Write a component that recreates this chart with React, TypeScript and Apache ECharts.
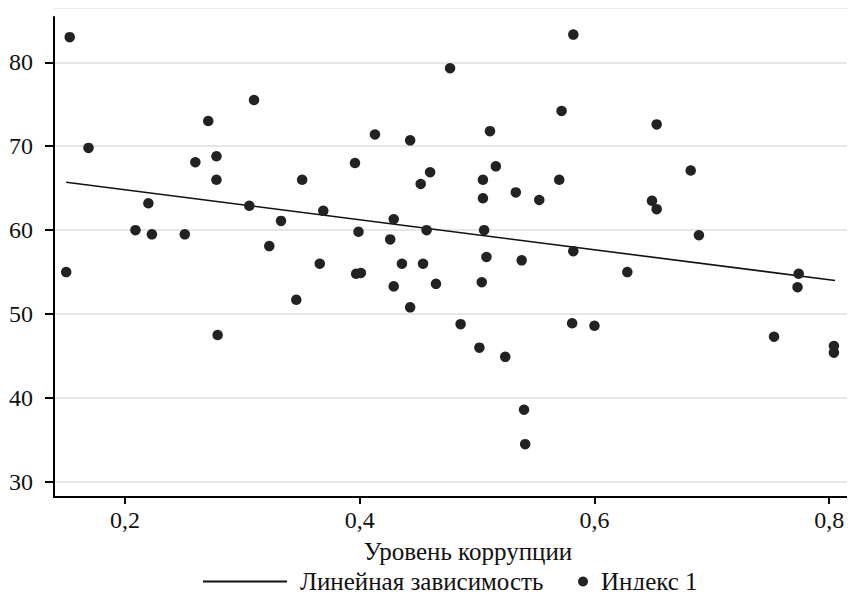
import React, { useEffect, useRef } from "react";
import * as echarts from "echarts";

// Corruption level (x) vs. index value (y) for each observation
const corruption = [
  0.153, 0.15, 0.169, 0.209, 0.22, 0.223, 0.251, 0.26, 0.271, 0.278,
  0.278, 0.279, 0.306, 0.31, 0.323, 0.333, 0.346, 0.351, 0.366, 0.369,
  0.396, 0.397, 0.401, 0.399, 0.426, 0.429, 0.429, 0.413, 0.436, 0.443,
  0.443, 0.452, 0.46, 0.454, 0.457, 0.465, 0.477, 0.486, 0.505, 0.505,
  0.511, 0.516, 0.506, 0.508, 0.504, 0.502, 0.524, 0.533, 0.538, 0.54,
  0.541, 0.553, 0.57, 0.572, 0.582, 0.582, 0.581, 0.6, 0.628, 0.649,
  0.653, 0.653, 0.682, 0.689, 0.753, 0.774, 0.773, 0.804, 0.804,
];
const index1 = [
  83.0, 55.0, 69.8, 60.0, 63.2, 59.5, 59.5, 68.1, 73.0, 68.8,
  66.0, 47.5, 62.9, 75.5, 58.1, 61.1, 51.7, 66.0, 56.0, 62.3,
  68.0, 54.8, 54.9, 59.8, 58.9, 61.3, 53.3, 71.4, 56.0, 70.7,
  50.8, 65.5, 66.9, 56.0, 60.0, 53.6, 79.3, 48.8, 66.0, 63.8,
  71.8, 67.6, 60.0, 56.8, 53.8, 46.0, 44.9, 64.5, 56.4, 38.6,
  34.5, 63.6, 66.0, 74.2, 83.3, 57.5, 48.9, 48.6, 55.0, 63.5,
  62.5, 72.6, 67.1, 59.4, 47.3, 54.8, 53.2, 46.2, 45.4,
];

// Endpoints of the fitted linear trend
const trendX = [0.15, 0.805];
const trendY = [65.7, 54.0];

const xTicks = [0.2, 0.4, 0.6, 0.8];
const yTicks = [30, 40, 50, 60, 70, 80];

const FONT = "'Liberation Serif', 'DejaVu Serif', serif";

export default function App() {
  const ref = useRef<HTMLDivElement>(null);

  useEffect(() => {
    if (!ref.current) return;
    const chart = echarts.init(ref.current, undefined, { renderer: "svg" });

    const points = corruption.map((x, i) => [x, index1[i]]);
    const trend = trendX.map((x, i) => [x, trendY[i]]);

    chart.setOption({
      animation: false,
      backgroundColor: "#fff",
      textStyle: { fontFamily: FONT },
      grid: { left: 54, right: 7, top: 17, bottom: 101, containLabel: false },
      xAxis: {
        type: "value",
        min: 0.1396,
        max: 0.816,
        name: "Уровень коррупции",
        nameLocation: "middle",
        nameGap: 42,
        nameTextStyle: {
          fontFamily: FONT,
          fontSize: 25,
          color: "#111",
          padding: [0, 0, 0, 34],
        },
        axisLine: { show: true, lineStyle: { color: "#000", width: 2 } },
        axisTick: {
          show: true,
          length: 7,
          lineStyle: { color: "#000", width: 2 },
          customValues: xTicks,
        },
        axisLabel: {
          fontFamily: FONT,
          fontSize: 24,
          color: "#111",
          margin: 11,
          customValues: xTicks,
          formatter: (v: number) => v.toFixed(1).replace(".", ","),
        },
        splitLine: { show: false },
      },
      yAxis: {
        type: "value",
        min: 28.2,
        max: 85.4,
        axisLine: { show: true, lineStyle: { color: "#000", width: 2 } },
        axisTick: {
          show: true,
          length: 9,
          lineStyle: { color: "#000", width: 2 },
          customValues: yTicks,
        },
        axisLabel: {
          fontFamily: FONT,
          fontSize: 24,
          color: "#111",
          margin: 21,
          customValues: yTicks,
        },
        splitLine: { show: true, lineStyle: { color: "#e6e6e6", width: 2 } },
      },
      legend: [
        {
          data: [{ name: "Линейная зависимость", icon: "rect" }],
          top: 569,
          left: 203,
          padding: 0,
          itemWidth: 84,
          itemHeight: 2,
          textStyle: {
            fontFamily: FONT,
            fontSize: 25,
            color: "#111",
            padding: [0, 0, 0, 8],
          },
        },
        {
          data: [{ name: "Индекс 1", icon: "circle" }],
          top: 569,
          left: 578,
          padding: 0,
          itemWidth: 10,
          itemHeight: 10,
          textStyle: {
            fontFamily: FONT,
            fontSize: 25,
            color: "#111",
            padding: [0, 0, 0, 8],
          },
        },
      ],
      graphic: [
        {
          type: "line",
          shape: { x1: 54, y1: 8, x2: 848, y2: 8 },
          style: { stroke: "#e6e6e6", lineWidth: 1.5 },
          silent: true,
        },
        {
          type: "line",
          shape: { x1: 847, y1: 497, x2: 855, y2: 497 },
          style: { stroke: "#000", lineWidth: 2 },
          silent: true,
        },
      ],
      series: [
        {
          name: "Линейная зависимость",
          type: "line",
          data: trend,
          symbol: "none",
          lineStyle: { color: "#111", width: 1.6 },
          itemStyle: { color: "#111" },
          z: 3,
        },
        {
          name: "Индекс 1",
          type: "scatter",
          data: points,
          symbol: "circle",
          symbolSize: 10.5,
          itemStyle: { color: "#222", opacity: 1 },
          z: 4,
        },
      ],
    });

    return () => chart.dispose();
  }, []);

  return <div ref={ref} style={{ width: 855, height: 598, margin: -8 }} />;
}
